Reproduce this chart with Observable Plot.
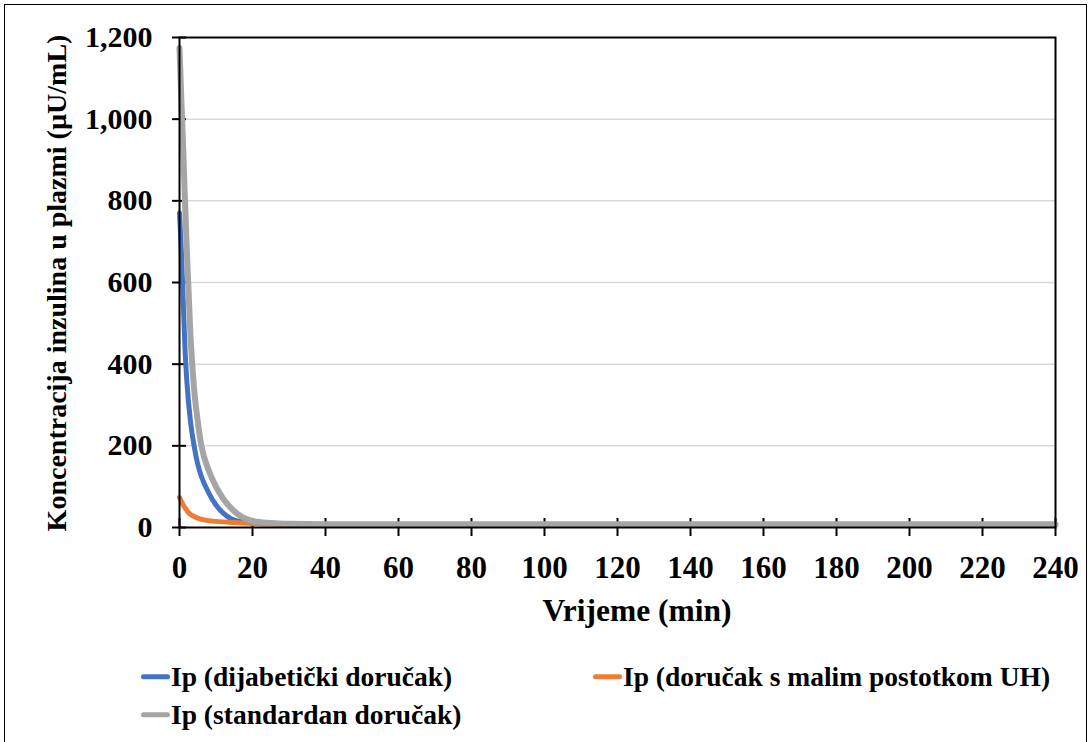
<!DOCTYPE html>
<html><head><meta charset="utf-8">
<script src="https://cdn.jsdelivr.net/npm/d3@7"></script>
<script src="https://cdn.jsdelivr.net/npm/@observablehq/plot@0.6"></script>
<style>
body{margin:0;background:#fff;font-family:"Liberation Serif","Times New Roman",serif;font-weight:bold;color:#000;}
#frame{position:absolute;left:4px;top:4px;width:1083px;height:746px;border:1.5px solid #000;box-sizing:border-box;}
#chart{position:absolute;left:0;top:0;}
.ytitle{position:absolute;left:57px;top:283px;transform:translate(-50%,-50%) rotate(-90deg);font-size:28px;line-height:1;white-space:nowrap;}
.xtitle{position:absolute;left:637px;top:611px;transform:translate(-50%,-50%);font-size:31.5px;line-height:1;white-space:nowrap;}
.leg{position:absolute;display:flex;align-items:center;transform:translateY(-50%);font-size:27.5px;line-height:1;white-space:nowrap;}
.leg span.sw{display:inline-block;width:29px;height:5px;border-radius:3px;margin-right:1px;}
</style></head>
<body>
<div id="frame"></div>
<div id="chart"></div>
<div class="ytitle">Koncentracija inzulina u plazmi (µU/mL)</div>
<div class="xtitle">Vrijeme (min)</div>
<div id="legend"></div>
<script>
// Series names
const seriesNames = ["Ip (dijabetički doručak)", "Ip (doručak s malim postotkom UH)", "Ip (standardan doručak)"];
const seriesColors = ["#4472C4", "#ED7D31", "#A5A5A5"];

// Blue: dijabetički doručak
const tBlue = [0, 0.5, 1, 1.5, 2, 3, 4, 5, 6, 8, 10, 12, 15, 20, 25, 30, 40, 60, 90, 120, 150, 180, 210, 240];
const vBlue = [770, 680, 560, 440, 360, 260, 200, 155, 125, 85, 55, 35, 18, 11, 9, 8, 7, 7, 7, 7, 7, 7, 7, 7];

// Orange: doručak s malim postotkom UH
const tOrange = [0, 0.5, 1, 2, 3, 4, 5, 7, 10, 15, 20, 30, 40, 60, 90, 120, 150, 180, 210, 240];
const vOrange = [74, 64, 55, 42, 32, 27, 23, 18, 15, 12, 10, 8, 7, 6, 6, 6, 6, 6, 6, 6];

// Gray: standardan doručak
const tGray = [0, 0.5, 1, 1.5, 2, 3, 4, 5, 6, 8, 10, 12, 15, 20, 25, 30, 40, 60, 90, 120, 150, 180, 210, 240];
const vGray = [1174, 1050, 930, 800, 680, 470, 340, 260, 200, 140, 100, 70, 40, 16, 11, 9, 8, 8, 8, 8, 8, 8, 8, 8];

const xTicks = [0, 20, 40, 60, 80, 100, 120, 140, 160, 180, 200, 220, 240];
const yTicks = [0, 200, 400, 600, 800, 1000, 1200];
const yGrid = [200, 400, 600, 800, 1000];

const toRows = (ts, vs, s) => ts.map((t, i) => ({t, v: vs[i], s}));
const blue = toRows(tBlue, vBlue, seriesNames[0]);
const orange = toRows(tOrange, vOrange, seriesNames[1]);
const gray = toRows(tGray, vGray, seriesNames[2]);

const chart = Plot.plot({
  width: 1089,
  height: 640,
  marginLeft: 179,
  marginRight: 34,
  marginTop: 37,
  marginBottom: 113,
  style: {fontFamily: '"Liberation Serif","Times New Roman",serif', fontSize: "31px", fontWeight: "bold", color: "#000", background: "transparent", overflow: "visible"},
  x: {domain: [0, 240]},
  y: {domain: [0, 1200]},
  marks: [
    Plot.gridY(yGrid, {stroke: "#d9d9d9", strokeOpacity: 1, strokeWidth: 1.5}),
    Plot.axisY({ticks: yTicks, tickSize: 14, dx: 7, tickPadding: 20, tickFormat: d3.format(","), strokeWidth: 2, label: null, fontSize: 30}),
    Plot.axisX({ticks: xTicks, tickSize: 18, dy: -9, tickPadding: 19, strokeWidth: 2, label: null, fontSize: 31}),
    Plot.line(blue, {x: "t", y: "v", stroke: seriesColors[0], strokeWidth: 5, curve: "monotone-x"}),
    Plot.line(orange, {x: "t", y: "v", stroke: seriesColors[1], strokeWidth: 5, curve: "monotone-x"}),
    Plot.line(gray, {x: "t", y: "v", stroke: seriesColors[2], strokeWidth: 6, curve: "monotone-x"}),
    Plot.frame({stroke: "#000", strokeWidth: 2})
  ]
});
document.getElementById("chart").appendChild(chart);

const legPos = [[141, 677], [593, 677], [141, 715]];
const legend = document.getElementById("legend");
seriesNames.forEach((n, i) => {
  const d = document.createElement("div");
  d.className = "leg";
  d.style.left = legPos[i][0] + "px";
  d.style.top = legPos[i][1] + "px";
  d.innerHTML = `<span class="sw" style="background:${seriesColors[i]}"></span><span>${n}</span>`;
  legend.appendChild(d);
});
</script>
</body></html>
